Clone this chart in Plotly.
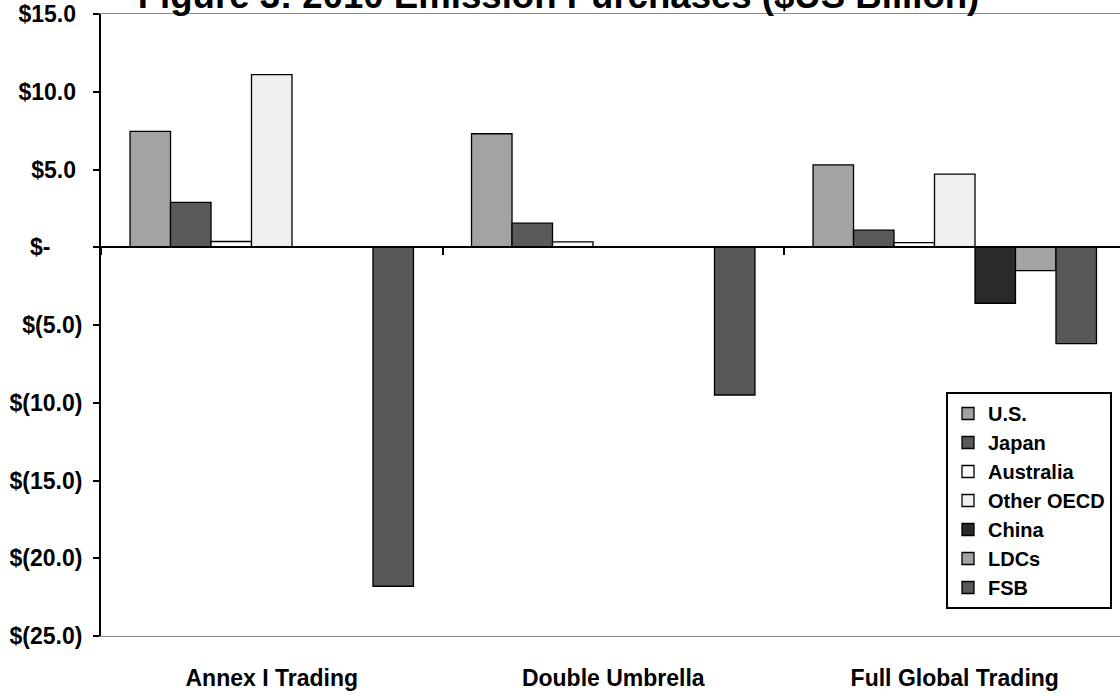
import plotly.graph_objects as go

categories = ["Annex I Trading", "Double Umbrella", "Full Global Trading"]
series_names = ["U.S.", "Japan", "Australia", "Other OECD", "China", "LDCs", "FSB"]
us = [7.45, 7.3, 5.3]
japan = [2.88, 1.55, 1.1]
australia = [0.37, 0.35, 0.3]
other_oecd = [11.1, 0.0, 4.7]
china = [0.0, 0.0, -3.6]
ldcs = [0.0, 0.0, -1.5]
fsb = [-21.8, -9.5, -6.2]
series_values = [us, japan, australia, other_oecd, china, ldcs, fsb]
colors = ["#a3a3a3", "#5a5a5a", "#fbfbfb", "#efefef", "#2a2a2a", "#a3a3a3", "#585858"]

y_tick_vals = [15, 10, 5, 0, -5, -10, -15, -20, -25]
y_tick_text = ["$15.0", "$10.0", "$5.0", "$-", "$(5.0)", "$(10.0)", "$(15.0)", "$(20.0)", "$(25.0)"]

NB = "\u00a0"
padded = []
for v, t in zip(y_tick_vals, y_tick_text):
    if v > 0:
        padded.append(t + NB)
    elif v == 0:
        padded.append(t + NB * 5)
    else:
        padded.append(t)

FONT = "Liberation Sans, Arial, sans-serif"

fig = go.Figure()
for i, (name, vals, col) in enumerate(zip(series_names, series_values, colors)):
    fig.add_trace(go.Bar(
        x=categories, y=vals, name=name,
        marker=dict(color=col, line=dict(color="black", width=1.3)),
        legendgroup=name,
    ))

# invisible helper trace for the category ticks on the zero line
fig.add_trace(go.Scatter(x=categories, y=[0, 0, 0], xaxis="x2", mode="markers",
                         marker=dict(opacity=0), showlegend=False, hoverinfo="skip"))

W, H = 1120, 695
L, R, T, B = 101, 0, 14, 59
plot_w = W - L - R
cat_px = 341.5

fig.update_layout(
    width=W, height=H,
    margin=dict(l=L, r=R, t=T, b=B, autoexpand=False),
    paper_bgcolor="white", plot_bgcolor="white",
    barmode="group", bargap=0.17, bargroupgap=0,
    font=dict(family=FONT, color="black"),
    title=dict(text="Figure 3: 2010 Emission Purchases ($US Billion)",
               font=dict(size=36.6, family=FONT, color="black", weight="bold"),
               x=558.5 / W, xanchor="center", xref="container",
               y=1 - 8 / H, yanchor="bottom", yref="container"),
    xaxis=dict(type="category", range=[-0.5, -0.5 + plot_w / cat_px],
               showline=True, linecolor="#8a8a8a", linewidth=1, mirror=True,
               ticks="", showgrid=False, zeroline=False,
               tickfont=dict(size=23, family=FONT, color="black", weight="bold"),
               ticklabelstandoff=21),
    xaxis2=dict(type="category", overlaying="x", matches="x", anchor="free",
                position=25 / 40, side="bottom", showline=True, linecolor="black",
                linewidth=2, ticks="outside", tickson="boundaries", ticklen=7,
                tickwidth=2, tickcolor="black", showticklabels=False,
                showgrid=False, zeroline=False, layer="above traces"),
    yaxis=dict(range=[-25, 15], tickvals=y_tick_vals, ticktext=padded,
               showline=True, linecolor="black", linewidth=2,
               ticks="outside", ticklen=6, tickwidth=1.5, tickcolor="black",
               showgrid=False, zeroline=False,
               tickfont=dict(size=23, family=FONT, color="black", weight="bold"),
               ticklabelstandoff=6),
    legend=dict(x=(946 - L) / plot_w, y=(636 - 392) / 622, xanchor="left", yanchor="top",
                bordercolor="black", borderwidth=2, bgcolor="white",
                font=dict(size=20, family=FONT, color="black", weight="bold"),
                tracegroupgap=0, itemclick=False),
)

fig.write_html("out.html", config={"displayModeBar": False},
               post_script="document.body.style.margin='0';document.body.style.padding='0';")
